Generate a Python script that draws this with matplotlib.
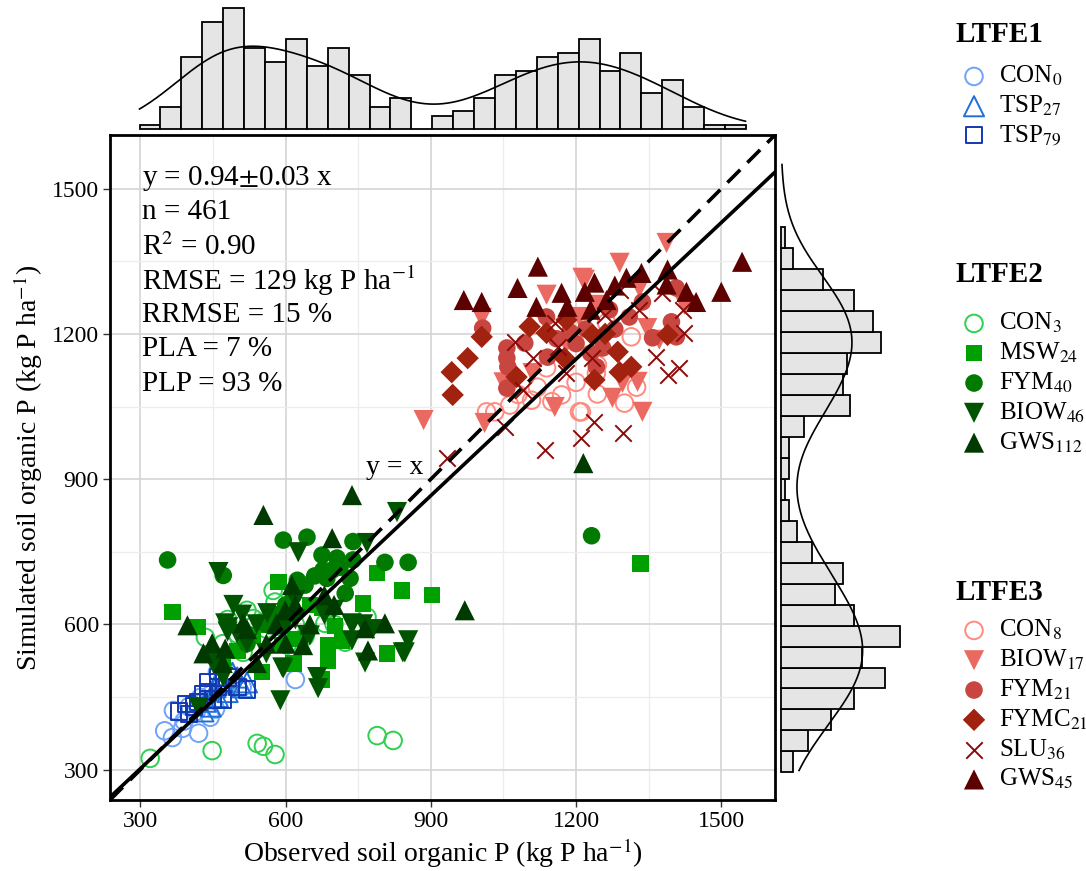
import numpy as np
import matplotlib.pyplot as plt

plt.rcParams['font.family'] = ['Liberation Serif', 'DejaVu Serif']
plt.rcParams['mathtext.fontset'] = 'stix'

# ---- scatter data (observed, simulated), kg P ha-1 ----
con0_x = [366, 387, 420, 368, 424, 459, 444, 510, 620, 400, 430, 445, 470, 455, 390, 480, 350, 415]
con0_y = [366, 385, 375, 422, 449, 501, 408, 470, 486, 430, 440, 455, 470, 425, 400, 500, 380, 420]
tsp27_x = [470, 500, 510, 445, 460, 480, 520, 435, 455, 490, 430, 465]
tsp27_y = [480, 490, 470, 430, 450, 460, 480, 440, 470, 500, 420, 495]
tsp79_x = [380, 400, 420, 440, 460, 480, 500, 520, 410, 450, 430, 470, 395, 460, 440]
tsp79_y = [420, 415, 440, 460, 470, 490, 470, 465, 430, 445, 455, 445, 435, 490, 480]

con3_x = [320, 448, 541, 554, 578, 789, 822, 574, 578, 520, 551, 434, 451, 512, 768, 681, 723, 613,
          603, 533, 560, 590, 620, 640, 470, 500, 700, 480]
con3_y = [323, 339, 354, 348, 331, 370, 360, 670, 646, 629, 604, 573, 536, 542, 615, 602, 563, 583,
          557, 612, 590, 595, 600, 575, 560, 580, 600, 610]
msw24_x = [366, 418, 585, 533, 551, 593, 616, 789, 840, 902, 760, 675, 702, 688, 688, 809, 675, 716,
           1333, 470, 500, 560, 650, 620]
msw24_y = [625, 594, 687, 577, 501, 557, 519, 706, 670, 660, 643, 635, 596, 557, 525, 540, 486, 567,
           726, 520, 545, 600, 640, 570]
fym40_x = [356, 471, 595, 644, 624, 640, 616, 739, 675, 706, 739, 805, 853, 677, 696, 733, 723, 685,
           712, 1232, 660, 600, 580, 560, 520]
fym40_y = [733, 701, 774, 780, 691, 681, 660, 771, 743, 737, 733, 728, 728, 712, 712, 695, 664, 695,
           718, 783, 700, 640, 620, 600, 560]
biow46_x = [461, 626, 492, 475, 480, 562, 595, 830, 768, 737, 737, 853, 846, 764, 650, 593, 589, 667,
            665, 737, 842, 644, 481, 471, 420, 520, 540, 600, 620, 680, 700, 560, 450, 500, 510, 760,
            780, 620]
biow46_y = [708, 749, 640, 602, 585, 623, 509, 832, 768, 602, 567, 567, 542, 521, 577, 511, 443, 468,
            491, 598, 542, 578, 594, 491, 428, 560, 600, 600, 610, 620, 630, 540, 520, 580, 620, 600,
            590, 650]
gws112_x = [554, 397, 448, 475, 512, 613, 599, 636, 737, 696, 970, 805, 764, 770, 1215, 540, 560, 580,
            620, 650, 700, 470, 520, 680, 600, 430]
gws112_y = [826, 598, 561, 550, 602, 681, 629, 557, 867, 778, 629, 602, 592, 546, 933, 520, 560, 600,
            640, 600, 640, 520, 590, 660, 560, 540]

con8_x = [1032, 1139, 1108, 1170, 1207, 1114, 1063, 1015, 1263, 1314, 1244, 1242, 1244, 1300, 1325,
          1211, 1080, 1120, 1200, 1150]
con8_y = [1039, 1130, 1063, 1074, 1039, 1219, 1053, 1039, 1223, 1194, 1136, 1119, 1076, 1057, 1090,
          1039, 1075, 1090, 1100, 1060]
biow17_x = [885, 1005, 1139, 1110, 1156, 1011, 1213, 1290, 1218, 1387, 1331, 1347, 1372, 1424, 1296,
            1327, 1275, 1337, 1207, 1050, 1180, 1240]
biow17_y = [1022, 1233, 1281, 1119, 1049, 1016, 1316, 1347, 1312, 1388, 1295, 1212, 1188, 1260, 1099,
            1101, 1068, 1039, 1235, 1100, 1180, 1260]
fym21_x = [1007, 1057, 1094, 1057, 1059, 1139, 1141, 1057, 1187, 1407, 1337, 1269, 1310, 1397, 1358,
           1407, 1255, 1242, 1200, 1220, 1160, 1230, 1280]
fym21_y = [1212, 1171, 1181, 1150, 1132, 1235, 1152, 1088, 1204, 1295, 1266, 1250, 1235, 1225, 1192,
           1194, 1171, 1132, 1180, 1210, 1190, 1160, 1210]
fymc21_x = [943, 976, 945, 1005, 1139, 1180, 1104, 1077, 1176, 1286, 1314, 1290, 1389, 1238, 1234, 1260]
fymc21_y = [1121, 1150, 1074, 1194, 1202, 1229, 1215, 1111, 1150, 1163, 1132, 1121, 1198, 1105, 1198, 1200]
slu36_x = [1073, 1156, 1090, 1162, 1053, 1135, 933, 1211, 1378, 1420, 1424, 1366, 1389, 1413, 1238,
           1296, 1232, 1290, 1180, 1110, 1260, 1330]
slu36_y = [1183, 1223, 1084, 1173, 1008, 960, 943, 985, 1285, 1250, 1202, 1152, 1115, 1130, 1018,
           995, 1150, 1290, 1120, 1150, 1240, 1250]
gws45_x = [968, 1005, 1079, 1121, 1118, 1170, 1182, 1543, 1500, 1448, 1428, 1389, 1335, 1387, 1304,
           1238, 1218, 1263, 1230, 1280]
gws45_y = [1270, 1266, 1295, 1339, 1256, 1285, 1256, 1349, 1287, 1266, 1287, 1333, 1326, 1302, 1316,
           1306, 1287, 1270, 1250, 1300]

# ---- marginal histogram counts ----
obs_range = [298, 1551]
obs_counts = [1, 5, 16, 24, 27, 18, 15, 20, 14, 18, 12, 5, 7, 0, 3, 4, 7, 12, 13, 16, 17, 20, 13, 17,
              8, 11, 5, 1, 1]
sim_range = [294, 1421]
sim_counts = [3, 7, 13, 19, 27, 21, 31, 19, 14, 16, 8, 4, 2, 1, 2, 2, 6, 18, 16, 17, 26, 24, 19, 11, 3, 1]
density_range = [298, 1550]

# regression y = a + b x
reg_a = 20
reg_b = 0.94

stats_lines = [r'y = 0.94$\pm$0.03 x', 'n = 461', r'R$^{2}$ = 0.90', r'RMSE = 129 kg P ha$^{-1}$',
               'RRMSE = 15 %', 'PLA = 7 %', 'PLP = 93 %']

ticks = [300, 600, 900, 1200, 1500]
lims = [237, 1611]

fig = plt.figure(figsize=(10.86, 8.71), dpi=100)
ax = fig.add_axes([110 / 1086, 1 - 800 / 871, 665 / 1086, 665 / 871])
ax_top = fig.add_axes([110 / 1086, 1 - 131 / 871, 665 / 1086, 131 / 871])
ax_right = fig.add_axes([780 / 1086, 1 - 800 / 871, 130 / 1086, 665 / 871])

ax.set_xlim(lims)
ax.set_ylim(lims)
ax.set_xticks(ticks)
ax.set_yticks(ticks)
ax.set_xticks([450, 750, 1050, 1350], minor=True)
ax.set_yticks([450, 750, 1050, 1350], minor=True)
ax.grid(True, which='major', color='#d4d4d4', lw=1.2)
ax.grid(True, which='minor', color='#ededed', lw=0.9)
ax.set_axisbelow(True)
ax.tick_params(which='major', length=5, width=1, color='#333333', labelsize=17, pad=3)
ax.tick_params(which='minor', length=0)
for s in ax.spines.values():
    s.set_linewidth(2)

groups = [
    (con0_x, con0_y, 'o', '#6fa3f7', True, r'CON$_{0}$', 1),
    (tsp27_x, tsp27_y, '^', '#1f6fd6', True, r'TSP$_{27}$', 1),
    (tsp79_x, tsp79_y, 's', '#1438b0', True, r'TSP$_{79}$', 1),
    (con3_x, con3_y, 'o', '#2fcf4f', True, r'CON$_{3}$', 2),
    (msw24_x, msw24_y, 's', '#00a000', False, r'MSW$_{24}$', 2),
    (fym40_x, fym40_y, 'o', '#007a00', False, r'FYM$_{40}$', 2),
    (biow46_x, biow46_y, 'v', '#005400', False, r'BIOW$_{46}$', 2),
    (gws112_x, gws112_y, '^', '#003a00', False, r'GWS$_{112}$', 2),
    (con8_x, con8_y, 'o', '#ff8a80', True, r'CON$_{8}$', 3),
    (biow17_x, biow17_y, 'v', '#ea6a62', False, r'BIOW$_{17}$', 3),
    (fym21_x, fym21_y, 'o', '#c8463f', False, r'FYM$_{21}$', 3),
    (fymc21_x, fymc21_y, 'D', '#a0220f', False, r'FYMC$_{21}$', 3),
    (slu36_x, slu36_y, 'x', '#8b0a0a', False, r'SLU$_{36}$', 3),
    (gws45_x, gws45_y, '^', '#5c0000', False, r'GWS$_{45}$', 3),
]
sizes = {'o': 160, 's': 140, '^': 210, 'v': 210, 'D': 130, 'x': 140}

handles = {1: [], 2: [], 3: []}
for gx, gy, m, c, hollow, lab, grp in groups:
    if hollow:
        h = ax.scatter(gx, gy, s=sizes[m], marker=m, facecolors='none', edgecolors=c, linewidths=1.4,
                       label=lab, zorder=3)
    elif m == 'x':
        h = ax.scatter(gx, gy, s=sizes[m], marker=m, color=c, linewidths=1.4, label=lab, zorder=3)
    else:
        h = ax.scatter(gx, gy, s=sizes[m], marker=m, color=c, edgecolors='none', label=lab, zorder=3)
    handles[grp].append(h)

ax.axline((0, 0), slope=1, color='black', lw=2.6, ls=(0, (5, 2.8)), zorder=4)
ax.axline((0, reg_a), slope=reg_b, color='black', lw=2.6, zorder=4)
ax.text(826, 925, 'y = x', fontsize=20, ha='center', va='center', zorder=5)

for i, line in enumerate(stats_lines):
    ax.text(0.048, 0.935 - i * 0.0515, line, transform=ax.transAxes, fontsize=21, ha='left', va='center')

ax.set_xlabel(r'Observed soil organic P (kg P ha$^{-1}$)', fontsize=20, labelpad=3)
ax.set_ylabel(r'Simulated soil organic P (kg P ha$^{-1}$)', fontsize=20, labelpad=5)


def kde(centers, counts, grid):
    sample = np.repeat(centers, counts)
    sd = sample.std(ddof=1)
    iqr = np.subtract(*np.percentile(sample, [75, 25]))
    bw = 0.9 * min(sd, iqr / 1.34) * len(sample) ** -0.2
    z = (grid[:, None] - sample[None, :]) / bw
    return np.exp(-0.5 * z ** 2).sum(axis=1) / (np.sqrt(2 * np.pi) * bw)


# top marginal
obs_edges = np.linspace(obs_range[0], obs_range[1], len(obs_counts) + 1)
obs_centers = (obs_edges[:-1] + obs_edges[1:]) / 2
ax_top.hist(obs_centers, bins=obs_edges, weights=obs_counts, color='#e5e5e5', edgecolor='black', lw=1.3)
grid = np.linspace(density_range[0], density_range[1], 400)
ax_top.plot(grid, kde(obs_centers, obs_counts, grid) * (obs_edges[1] - obs_edges[0]), color='black', lw=1.2)
ax_top.set_xlim(lims)
ax_top.set_ylim(-0.4, 28.8)
ax_top.axis('off')

# right marginal
sim_edges = np.linspace(sim_range[0], sim_range[1], len(sim_counts) + 1)
sim_centers = (sim_edges[:-1] + sim_edges[1:]) / 2
ax_right.hist(sim_centers, bins=sim_edges, weights=sim_counts, orientation='horizontal', color='#e5e5e5',
              edgecolor='black', lw=1.3)
ax_right.plot(kde(sim_centers, sim_counts, grid) * (sim_edges[1] - sim_edges[0]), grid, color='black', lw=1.2)
ax_right.set_ylim(lims)
ax_right.set_xlim(-0.3, 33.5)
ax_right.axis('off')

# legends: title drawn as text, entries as a legend under it
title_y = {1: 35, 2: 275, 3: 592}
entries_top = {1: 64, 2: 311, 3: 618}
for grp in [1, 2, 3]:
    fig.text(955 / 1086, 1 - title_y[grp] / 871, 'LTFE%d' % grp, fontsize=21, fontweight='bold',
             ha='left', va='center')
    fig.legend(handles=handles[grp], loc='upper left', bbox_to_anchor=(959 / 1086, 1 - entries_top[grp] / 871),
               frameon=False, fontsize=18, handlelength=1.2, handletextpad=0.4, labelspacing=0.22,
               borderaxespad=0, borderpad=0)

fig.savefig('out.png', dpi=100)
